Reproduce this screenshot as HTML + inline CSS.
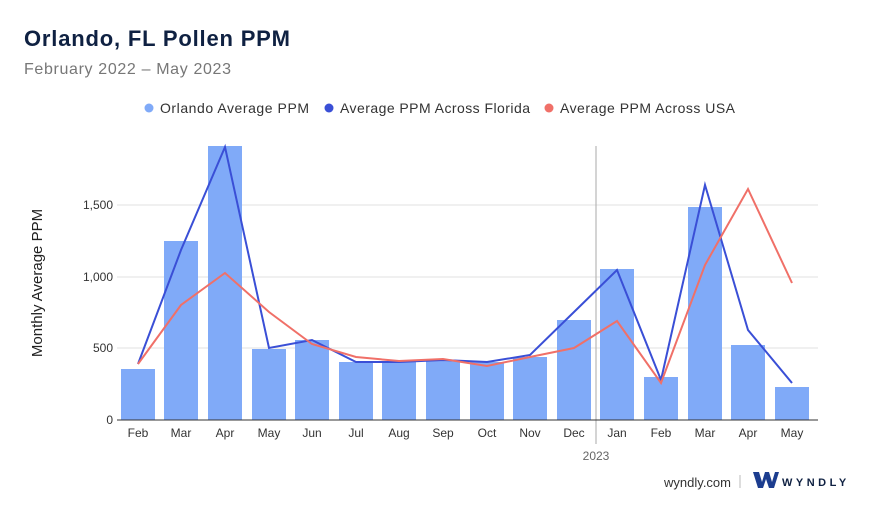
<!DOCTYPE html>
<html><head><meta charset="utf-8"><style>
body{margin:0;width:880px;height:510px;background:#fff;font-family:"Liberation Sans",sans-serif;overflow:hidden}
</style></head><body>
<svg width="880" height="510" xmlns="http://www.w3.org/2000/svg" font-family="Liberation Sans, sans-serif">
<text x="24" y="46" font-size="22" font-weight="bold" fill="#0f2142" textLength="266">Orlando, FL Pollen PPM</text>
<text x="24" y="74" font-size="16" fill="#777" textLength="207">February 2022 – May 2023</text>
<circle cx="149" cy="108" r="4.5" fill="#80aaf8"/><text x="160" y="113" font-size="14" fill="#333" textLength="149">Orlando Average PPM</text>
<circle cx="329" cy="108" r="4.5" fill="#3a4fd6"/><text x="340" y="113" font-size="14" fill="#333" textLength="190">Average PPM Across Florida</text>
<circle cx="549" cy="108" r="4.5" fill="#f07068"/><text x="560" y="113" font-size="14" fill="#333" textLength="175">Average PPM Across USA</text>
<text transform="translate(42,283) rotate(-90)" font-size="15" fill="#222" text-anchor="middle">Monthly Average PPM</text>
<g stroke="#e2e2e2" stroke-width="1">
<line x1="117" y1="205" x2="818" y2="205"/><line x1="117" y1="277" x2="818" y2="277"/><line x1="117" y1="348" x2="818" y2="348"/>
</g>
<g font-size="12" fill="#333" text-anchor="end">
<text x="113" y="209">1,500</text><text x="113" y="281">1,000</text><text x="113" y="352">500</text><text x="113" y="424">0</text>
</g>
<line x1="596" y1="146" x2="596" y2="444" stroke="#aaa"/>
<g fill="#80aaf8">
<rect x="121" y="369" width="34" height="51"/><rect x="164" y="241" width="34" height="179"/><rect x="208" y="146" width="34" height="274"/><rect x="252" y="349" width="34" height="71"/>
<rect x="295" y="340" width="34" height="80"/><rect x="339" y="362" width="34" height="58"/><rect x="382" y="361" width="34" height="59"/><rect x="426" y="360" width="34" height="60"/>
<rect x="470" y="362" width="34" height="58"/><rect x="513" y="357" width="34" height="63"/><rect x="557" y="320" width="34" height="100"/><rect x="600" y="269" width="34" height="151"/>
<rect x="644" y="377" width="34" height="43"/><rect x="688" y="207" width="34" height="213"/><rect x="731" y="345" width="34" height="75"/><rect x="775" y="387" width="34" height="33"/>
</g>
<line x1="117" y1="420" x2="818" y2="420" stroke="#333"/>
<polyline fill="none" stroke="#3a4fd6" stroke-width="2" points="138,364 181,250 225,147 269,348 312,340 356,362 399,362 443,360 487,362 530,355 574,312 617,270 661,380 705,185 748,330 792,383"/>
<polyline fill="none" stroke="#f07068" stroke-width="2" points="138,364 181,305 225,273 269,312 312,344 356,357 399,361 443,359 487,366 530,357 574,348 617,321 661,383 705,265 748,189 792,283"/>
<g font-size="12" fill="#333" text-anchor="middle">
<text x="138" y="437">Feb</text><text x="181" y="437">Mar</text><text x="225" y="437">Apr</text><text x="269" y="437">May</text><text x="312" y="437">Jun</text><text x="356" y="437">Jul</text><text x="399" y="437">Aug</text><text x="443" y="437">Sep</text><text x="487" y="437">Oct</text><text x="530" y="437">Nov</text><text x="574" y="437">Dec</text><text x="617" y="437">Jan</text><text x="661" y="437">Feb</text><text x="705" y="437">Mar</text><text x="748" y="437">Apr</text><text x="792" y="437">May</text>
<text x="596" y="460" fill="#666">2023</text>
</g>
<text x="731" y="487" font-size="13" fill="#333" text-anchor="end">wyndly.com</text>
<line x1="740" y1="475" x2="740" y2="488" stroke="#bbb"/>
<path d="M753,472 h6 l3,10 l3,-10 h4 l3,10 l3,-10 h4 l-5,16 h-5 l-3,-9 l-3,9 h-5 z" fill="#1c3d8f"/>
<text x="782" y="486" font-size="11" font-weight="bold" fill="#0f2142" letter-spacing="3.5">WYNDLY</text>
</svg>
</body></html>
